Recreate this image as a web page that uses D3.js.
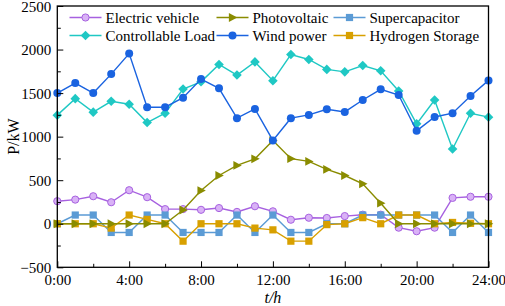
<!DOCTYPE html>
<html>
<head>
<meta charset="utf-8">
<script src="https://cdn.jsdelivr.net/npm/d3@7"></script>
<style>
  body { margin: 0; background: #fff; }
</style>
</head>
<body>
<script>
var width = 505,
    height = 306,
    serif = "'Liberation Serif', 'Times New Roman', 'DejaVu Serif', serif";

// hours 0..24
var hours = d3.range(0, 25);
var xTicks = [0, 4, 8, 12, 16, 20, 24];
var xTickLabels = ["0:00", "4:00", "8:00", "12:00", "16:00", "20:00", "24:00"];
var yTicks = [-500, 0, 500, 1000, 1500, 2000, 2500];

var electricVehicle = [259, 277, 316, 247, 385, 305, 168, 168, 160, 180, 136, 201, 143, 46, 69, 66, 88, 104, 104, -45, -86, -45, 297, 310, 310];
var photovoltaic = [0, 0, 0, 0, 0, 0, 0, 158, 381, 554, 670, 745, 955, 747, 716, 624, 554, 458, 236, 0, 0, 0, 0, 0, 0];
var supercapacitor = [0, 100, 100, -100, -100, 100, 100, -100, -100, -100, 100, -100, 100, -100, -100, 0, 0, 100, 100, 100, 100, 100, -100, 100, -100];
var controllableLoad = [1247, 1436, 1281, 1406, 1372, 1162, 1269, 1547, 1630, 1829, 1707, 1858, 1642, 1943, 1886, 1772, 1744, 1817, 1756, 1524, 1147, 1421, 858, 1269, 1224];
var windPower = [1500, 1615, 1500, 1718, 1954, 1338, 1338, 1448, 1661, 1555, 1212, 1318, 957, 1212, 1250, 1315, 1284, 1421, 1543, 1478, 1067, 1226, 1270, 1467, 1646];
var hydrogenStorage = [0, 0, 0, -50, 100, 50, 0, -200, 0, 0, 0, -50, -70, -200, -200, -10, 0, 70, 0, 100, 100, 0, 15, 5, 0];

var series = [
  {name: "Electric vehicle", values: electricVehicle, color: "#a761e0", fill: "#d9b2f6", shape: "circle"},
  {name: "Supercapacitor", values: supercapacitor, color: "#5b9bd5", fill: "#5b9bd5", shape: "square"},
  {name: "Hydrogen Storage", values: hydrogenStorage, color: "#d8a000", fill: "#d8a000", shape: "square"},
  {name: "Photovoltaic", values: photovoltaic, color: "#8a8c00", fill: "#8a8c00", shape: "triangle"},
  {name: "Controllable Load", values: controllableLoad, color: "#1fc8c4", fill: "#1fc8c4", shape: "diamond"},
  {name: "Wind power", values: windPower, color: "#1a63e0", fill: "#1a63e0", shape: "dot"}
];

// legend layout order (column-wise)
var legendOrder = ["Electric vehicle", "Controllable Load", "Photovoltaic", "Wind power", "Supercapacitor", "Hydrogen Storage"];

var margin = {left: 57.3, right: 505 - 488.5, top: 6, bottom: 306 - 267.3};

var svg = d3.select('body').append('svg')
    .attr('width', width)
    .attr('height', height)
    .attr('font-family', serif);

var x = d3.scaleLinear().domain([0, 24]).range([margin.left, width - margin.right]);
var y = d3.scaleLinear().domain([-500, 2500]).range([height - margin.bottom, margin.top]);

function drawMarker(g, shape, color, fill) {
  if (shape == "circle") {
    g.append("circle").attr("r", 3.6).attr("fill", fill).attr("stroke", color).attr("stroke-width", 1);
  } else if (shape == "dot") {
    g.append("circle").attr("r", 4).attr("fill", fill);
  } else if (shape == "square") {
    g.append("rect").attr("x", -3.6).attr("y", -3.6).attr("width", 7.2).attr("height", 7.2).attr("fill", fill);
  } else if (shape == "diamond") {
    g.append("path").attr("d", "M0,-4.8L4.8,0L0,4.8L-4.8,0Z").attr("fill", fill);
  } else if (shape == "triangle") {
    g.append("path").attr("d", "M-3.6,-4.4L4.8,0L-3.6,4.4Z").attr("fill", fill);
  }
}

var line = d3.line()
    .x(function(d, i) { return x(hours[i]) })
    .y(function(d) { return y(d) });

var plot = svg.append("g");

series.forEach(function(s) {
  plot.append("path")
    .datum(s.values)
    .attr("d", line)
    .attr("fill", "none")
    .attr("stroke", s.color)
    .attr("stroke-width", 1.4);
  plot.selectAll(null)
    .data(s.values)
    .enter()
    .append("g")
    .attr("transform", function(d, i) { return "translate(" + x(hours[i]) + "," + y(d) + ")" })
    .each(function() { drawMarker(d3.select(this), s.shape, s.color, s.fill) });
});

// axes with inward ticks
var xAxis = d3.axisBottom(x).tickValues(xTicks).tickSize(-6).tickFormat(function(d, i) { return xTickLabels[i] });
var yAxis = d3.axisLeft(y).tickValues(yTicks).tickSize(-6).tickFormat(d3.format("d"));

var gx = svg.append("g").attr("transform", "translate(0," + y(-500) + ")").call(xAxis);
var gy = svg.append("g").attr("transform", "translate(" + x(0) + ",0)").call(yAxis);

// minor ticks
svg.append("g").attr("transform", "translate(0," + y(-500) + ")")
  .call(d3.axisBottom(x).tickValues([2, 6, 10, 14, 18, 22]).tickSize(-3.5).tickFormat(""));
svg.append("g").attr("transform", "translate(" + x(0) + ",0)")
  .call(d3.axisLeft(y).tickValues([-250, 250, 750, 1250, 1750, 2250]).tickSize(-3.5).tickFormat(""));

svg.selectAll(".domain").remove();
svg.selectAll("g").filter(function() { return this.hasAttribute("font-family") }).attr("font-family", serif);
svg.selectAll(".tick line").attr("stroke", "#000").attr("stroke-width", 1);
gx.selectAll("text").attr("font-size", 15).attr("dy", "1em").attr("y", 3).attr("fill", "#000");
gy.selectAll("text").attr("font-size", 15).attr("x", -6).attr("dy", "0.34em").attr("fill", "#000");

// frame
svg.append("rect")
  .attr("x", x(0)).attr("y", y(2500))
  .attr("width", x(24) - x(0)).attr("height", y(-500) - y(2500))
  .attr("fill", "none").attr("stroke", "#000").attr("stroke-width", 1.3);

// axis titles
svg.append("text")
  .attr("x", (x(0) + x(24)) / 2).attr("y", 303)
  .attr("text-anchor", "middle").attr("font-size", 16).attr("font-style", "italic")
  .attr("font-family", serif)
  .text("t/h");
svg.append("text")
  .attr("transform", "translate(19," + ((y(-500) + y(2500)) / 2) + ") rotate(-90)")
  .attr("text-anchor", "middle").attr("font-size", 16)
  .attr("font-family", serif)
  .text("P/kW");

// legend
var legendCols = [69.5, 216.5, 333.5];
var legendRows = [17.5, 35.5];
legendOrder.forEach(function(name, k) {
  var s = series.filter(function(d) { return d.name == name })[0];
  var lx = legendCols[Math.floor(k / 2)], ly = legendRows[k % 2];
  var g = svg.append("g").attr("transform", "translate(" + lx + "," + ly + ")");
  g.append("line").attr("x1", 0).attr("x2", 32).attr("y1", 0).attr("y2", 0)
    .attr("stroke", s.color).attr("stroke-width", 1.4);
  var m = g.append("g").attr("transform", "translate(16,0)");
  drawMarker(m, s.shape, s.color, s.fill);
  g.append("text").attr("x", 36).attr("y", 5).attr("font-size", 15)
    .attr("font-family", serif).attr("fill", "#000").text(s.name);
});
</script>
</body>
</html>
